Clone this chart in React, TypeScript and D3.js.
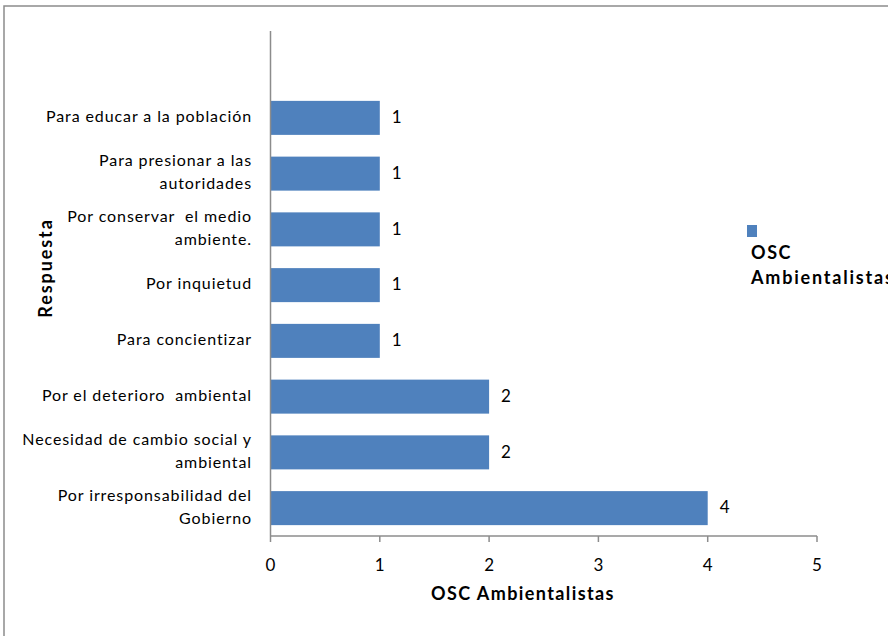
import React from "react";
import * as d3 from "d3";

const categories = [
  "Para educar a la población",
  "Para presionar a las|autoridades",
  "Por conservar  el medio|ambiente.",
  "Por inquietud",
  "Para concientizar",
  "Por el deterioro  ambiental",
  "Necesidad de cambio social y|ambiental",
  "Por irresponsabilidad del|Gobierno",
];
const values = [1, 1, 1, 1, 1, 2, 2, 4];
const xTicks = [0, 1, 2, 3, 4, 5];
const seriesName = ["OSC", "Ambientalistas"];
const xTitle = "OSC Ambientalistas";
const yTitle = "Respuesta";

const W = 888;
const H = 636;
const FONT = "Lato, 'Open Sans', sans-serif";

export default function App() {
  const x = d3.scaleLinear().domain([0, 5]).range([270.5, 817]);
  const y = d3
    .scaleBand<string>()
    .domain(categories)
    .range([90, 536])
    .paddingInner(0.39)
    .paddingOuter(0.195);
  const axisY = 536;
  const blue = "#4F81BD";

  return (
    <svg
      width={W}
      height={H}
      style={{ position: "absolute", left: 0, top: 0, background: "#fff" }}
      fontFamily={FONT}
    >
      <rect x={4} y={6} width={W + 10} height={H + 10} fill="#fff" stroke="#8c8c8c" strokeWidth={1.5} />
      {/* bars */}
      {categories.map((c, i) => (
        <rect
          key={c}
          x={x(0)}
          y={y(c)!}
          width={x(values[i]) - x(0)}
          height={y.bandwidth()}
          fill={blue}
        />
      ))}
      {/* value labels */}
      {categories.map((c, i) => (
        <text
          key={"v" + c}
          x={x(values[i]) + 12}
          y={y(c)! + y.bandwidth() / 2 + 1}
          fontSize={17}
          dominantBaseline="middle"
          fill="#000"
        >
          {values[i]}
        </text>
      ))}
      {/* y axis line */}
      <line x1={270.5} x2={270.5} y1={31} y2={axisY} stroke="#8c8c8c" strokeWidth={1.5} />
      {/* x axis line */}
      <line x1={270.5} x2={x(5)} y1={axisY} y2={axisY} stroke="#8c8c8c" strokeWidth={1.5} />
      {xTicks.map((t) => (
        <g key={t}>
          <line x1={x(t)} x2={x(t)} y1={axisY} y2={axisY + 6} stroke="#8c8c8c" strokeWidth={1.5} />
          <text x={x(t)} y={axisY + 35} fontSize={17} textAnchor="middle" fill="#000">
            {t}
          </text>
        </g>
      ))}
      {/* category labels */}
      {categories.map((c) => {
        const lines = c.split("|");
        const cy = y(c)! + y.bandwidth() / 2;
        const lh = 23;
        return (
          <g key={"l" + c}>
            {lines.map((ln, k) => {
              const yy = cy + (k - (lines.length - 1) / 2) * lh;
              return (
                <text
                  key={k}
                  x={252}
                  y={yy}
                  fontSize={16}
                  letterSpacing={0.9}
                  dominantBaseline="middle"
                  textAnchor="end"
                  fill="#000"
                  style={{ whiteSpace: "pre" }}
                >
                  {ln}
                </text>
              );
            })}
          </g>
        );
      })}
      {/* titles */}
      <text x={523} y={600} fontSize={18} letterSpacing={1.4} fontWeight="bold" textAnchor="middle" fill="#000">
        {xTitle}
      </text>
      <text
        transform={`translate(52,268) rotate(-90)`}
        fontSize={18}
        letterSpacing={1.9}
        fontWeight="bold"
        textAnchor="middle"
        fill="#000"
      >
        {yTitle}
      </text>
      {/* legend */}
      <rect x={747} y={225} width={10} height={12} fill={blue} />
      <text x={751} y={259} fontSize={18} letterSpacing={1.6} fontWeight="bold" fill="#000">{seriesName[0]}</text>
      <text x={751} y={284} fontSize={18} letterSpacing={1.8} fontWeight="bold" fill="#000">{seriesName[1]}</text>
    </svg>
  );
}
